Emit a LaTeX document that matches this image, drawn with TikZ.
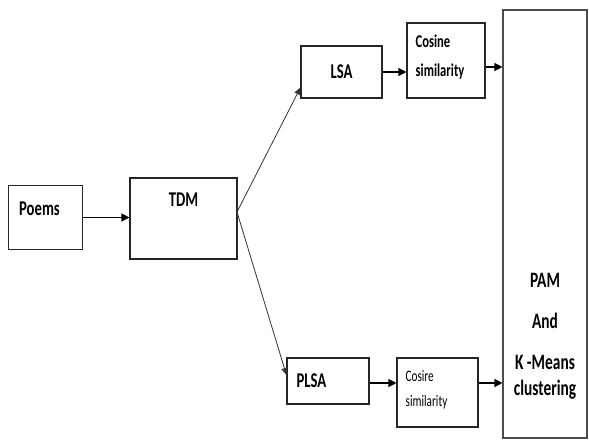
\documentclass[tikz,border=0pt]{standalone}
\usepackage{fontspec}
\setmainfont[FakeStretch=0.7]{Carlito}
\usetikzlibrary{arrows.meta}

\begin{document}
\begin{tikzpicture}[x=1pt,y=-1pt,
    box/.style={draw=black!85,line width=1.1pt,inner sep=0pt},
    lbl/.style={inner sep=0pt,font=\bfseries\fontsize{21}{25}\selectfont},
    arr/.style={-{Triangle[length=8pt,width=8pt]},line width=1.2pt},
    thinarr/.style={-{Triangle[length=7pt,width=6pt]},line width=0.8pt,draw=black!80}]
    \useasboundingbox (0,0) rectangle (589,442);
    % boxes
    \node[box,minimum width=74pt,minimum height=64pt,
        label={[lbl,anchor=west,xshift=11pt,yshift=8.5pt]west:Poems}] (poems) at (45.5,217.5) {};
    \node[box,minimum width=107pt,minimum height=81pt,
        label={[lbl,yshift=18.5pt]center:TDM}] (tdm) at (183.5,218.5) {};
    \node[box,minimum width=81pt,minimum height=52pt,font=\bfseries\fontsize{21}{25}\selectfont] (lsa) at (341.5,72) {LSA};
    \node[box,minimum width=78pt,minimum height=75pt,
        label={[lbl,align=left,anchor=west,xshift=9pt,yshift=3pt,font=\bfseries\fontsize{18}{29}\selectfont]west:{Cosine\\similarity}}] (cosa) at (446,60.5) {};
    \node[box,minimum width=82pt,minimum height=46pt,
        label={[lbl,anchor=west,xshift=10pt]west:PLSA}] (plsa) at (328,381) {};
    \node[box,minimum width=81pt,minimum height=69pt,
        label={[lbl,align=left,anchor=west,xshift=9pt,yshift=3pt,font=\fontsize{16}{25}\selectfont]west:{Cosire\\similarity}}] (cosb) at (437.5,392.5) {};
    \node[box,draw=black!70,minimum width=84pt,minimum height=428pt,
        label={[lbl,align=center,yshift=-112pt,font=\bfseries\fontsize{22}{26}\selectfont]center:{PAM\\[15pt]And\\[15pt]K -Means\\clustering}}] (clus) at (545,224) {};
    % arrows
    \coordinate (fork) at (237,212);
    \draw[arr] (poems.east) -- (poems.east -| tdm.west);
    \draw[thinarr] (fork) -- ([yshift=11pt]lsa.south west);
    \draw[thinarr] (fork) -- ([yshift=6pt]plsa.west);
    \draw[arr] (lsa.east) -- (lsa.east -| cosa.west);
    \draw[arr] ([yshift=-6.5pt]cosa.east) -- ([yshift=-6.5pt]cosa.east -| clus.west);
    \draw[arr] ([yshift=-2pt]plsa.east) -- ([yshift=-2pt]plsa.east -| cosb.west);
    \draw[arr] ([yshift=9.5pt]cosb.east) -- ([yshift=9.5pt]cosb.east -| clus.west);
\end{tikzpicture}
\end{document}
